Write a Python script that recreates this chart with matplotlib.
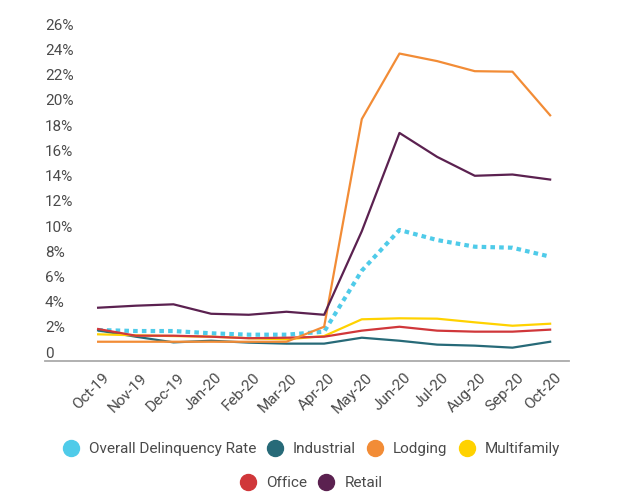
import numpy as np
import matplotlib
matplotlib.use("Agg")
import matplotlib.pyplot as plt
import matplotlib.transforms as mtransforms
from matplotlib.lines import Line2D

plt.rcParams["font.family"] = ["Roboto", "DejaVu Sans"]

months = ["Oct-19", "Nov-19", "Dec-19", "Jan-20", "Feb-20", "Mar-20", "Apr-20",
          "May-20", "Jun-20", "Jul-20", "Aug-20", "Sep-20", "Oct-20"]

overall     = [2.46, 2.38, 2.38, 2.20, 2.09, 2.09, 2.33, 7.17, 10.40, 9.60, 9.07, 8.99, 8.28]
industrial  = [2.43, 1.93, 1.48, 1.61, 1.46, 1.38, 1.38, 1.85, 1.61, 1.30, 1.22, 1.06, 1.53]
lodging     = [1.53, 1.53, 1.53, 1.53, 1.53, 1.53, 2.72, 19.2, 24.4, 23.8, 23.0, 22.96, 19.5]
multifamily = [2.12, 2.04, 1.98, 1.93, 1.81, 1.72, 1.98, 3.31, 3.39, 3.36, 3.07, 2.80, 2.96]
office      = [2.54, 2.01, 2.01, 1.93, 1.81, 1.85, 1.93, 2.41, 2.72, 2.41, 2.33, 2.33, 2.49]
retail      = [4.23, 4.39, 4.50, 3.75, 3.67, 3.91, 3.67, 10.3, 18.1, 16.2, 14.7, 14.8, 14.4]

names = ["Overall Delinquency Rate", "Industrial", "Lodging", "Multifamily", "Office", "Retail"]
colors = ["#4fcbe9", "#276a78", "#f28c36", "#ffd200", "#d0373a", "#5b2150"]
text_color = "#4a4a4a"

yticks = np.arange(0, 27, 2)
ytick_labels = ["0"] + ["%d%%" % v for v in yticks[1:]]

x = np.arange(len(months))

fig = plt.figure(figsize=(6.26, 5.01), dpi=100)
ax = fig.add_axes([0.0719, 0.2794, 0.837, 0.6917])

ax.plot(x, overall, color=colors[0], lw=3.0, linestyle=(0, (1.1, 1.0)), zorder=2)
ax.plot(x, industrial, color=colors[1], lw=1.6, zorder=3)
ax.plot(x, multifamily, color=colors[3], lw=1.6, zorder=3)
ax.plot(x, office, color=colors[4], lw=1.6, zorder=4)
ax.plot(x, lodging, color=colors[2], lw=1.6, zorder=5)
ax.plot(x, retail, color=colors[5], lw=1.6, zorder=5)

ax.set_xlim(-1.41, 12.5)
ax.set_ylim(0, 27.5)

ax.set_xticks(x)
ax.set_xticklabels(months, rotation=45, ha="right", va="top", rotation_mode="anchor",
                   fontsize=11, color=text_color)
ax.tick_params(axis="x", length=0, pad=7)
xshift = mtransforms.ScaledTranslation(0.04, 0, fig.dpi_scale_trans)
for lab in ax.get_xticklabels():
    lab.set_transform(lab.get_transform() + xshift)

ax.set_yticks(yticks)
ax.set_yticklabels(ytick_labels, ha="left", fontsize=11, color=text_color)
ax.tick_params(axis="y", length=0, pad=0)
# labels sit a bit above their value, like the original
shift = mtransforms.ScaledTranslation(0, 0.09, fig.dpi_scale_trans)
for lab in ax.get_yticklabels():
    lab.set_transform(lab.get_transform() + shift)

for s in ["top", "right", "left"]:
    ax.spines[s].set_visible(False)
ax.spines["bottom"].set_color("#aaaaaa")
ax.spines["bottom"].set_linewidth(1.3)

handles = [Line2D([], [], marker="o", linestyle="none", markersize=11.5,
                  markerfacecolor=c, markeredgecolor=c) for c in colors]

leg_kw = dict(loc="center", frameon=False, fontsize=11, handlelength=1.1,
              handletextpad=0.63, columnspacing=0.7, labelcolor=text_color,
              borderaxespad=0, borderpad=0)
leg1 = fig.legend(handles[:4], names[:4], bbox_to_anchor=(0.497, 0.104), ncol=4, **leg_kw)
leg2 = fig.legend(handles[4:], names[4:], bbox_to_anchor=(0.497, 0.036), ncol=2, **leg_kw)

fig.savefig("out.png", dpi=100)
